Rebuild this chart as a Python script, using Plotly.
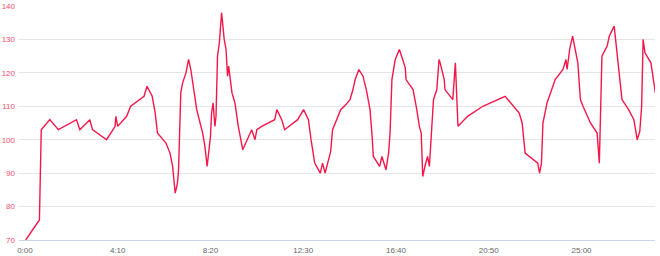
import plotly.graph_objects as go

# elapsed time (seconds) and heart-rate values
seconds = [2, 39, 44, 67, 90, 139, 148, 175, 182, 220, 243, 245, 250, 274, 285, 321, 329, 343, 351, 357,
           380, 391, 398, 405, 411, 414, 420, 425, 434, 441, 447, 454, 463, 472, 479, 485, 491, 496, 500, 503,
           507, 512, 515, 519, 524, 530, 537, 542, 546, 549, 553, 558, 566, 575, 587, 600, 611, 620, 625, 638,
           673, 679, 692, 700, 735, 751, 764, 771, 781, 796, 802, 809, 818, 824, 829, 837, 851, 865, 876, 884,
           890, 900, 911, 920, 925, 930, 935, 939, 956, 962, 973, 980, 984, 989, 998, 1009, 1018, 1025, 1027, 1046,
           1056, 1063, 1068, 1072, 1079, 1085, 1090, 1095, 1101, 1110, 1116, 1119, 1130, 1132, 1153, 1160, 1167, 1193, 1234, 1294,
           1332, 1340, 1348, 1382, 1387, 1392, 1396, 1407, 1429, 1450, 1458, 1461, 1468, 1476, 1483, 1490, 1497, 1504, 1524, 1542,
           1548, 1555, 1569, 1575, 1588, 1596, 1609, 1627, 1641, 1650, 1657, 1662, 1666, 1671, 1687, 1699]
heart_rate = [70, 76, 103, 106, 103, 106, 103, 106, 103, 100, 104, 107, 104, 107, 110, 113, 116, 113, 108, 102,
              99, 96, 92, 84, 87, 91, 114, 117, 120, 124, 121, 115, 109, 105, 102, 98, 92, 97, 101, 108,
              111, 104, 107, 125, 129, 138, 130, 127, 119, 122, 118, 114, 111, 104, 97, 100, 103, 100, 103, 104,
              106, 109, 106, 103, 106, 109, 106, 100, 93, 90, 93, 90, 94, 96.5, 103, 105, 109, 110.5, 112, 115,
              118, 121, 119, 115, 112, 109, 102, 95, 92, 95, 91, 96, 102, 118, 124, 127, 124, 121.5, 118, 115,
              109, 104, 102, 89, 92.5, 95, 92, 102, 112, 115, 124, 123, 118, 115, 112, 123, 104, 107, 110, 113,
              108, 105, 96, 93, 90, 93, 105, 111, 118, 121, 124, 121, 127, 131, 127, 123, 112, 110, 105, 102,
              93, 125, 128, 131, 134, 126, 112, 109, 106, 100, 102.5, 110, 130, 126, 123, 114]

x_tick_values = [0, 250, 500, 750, 1000, 1250, 1500]
x_tick_labels = ["0:00", "4:10", "8:20", "12:30", "16:40", "20:50", "25:00"]
y_tick_values = [70, 80, 90, 100, 110, 120, 130, 140]

fig = go.Figure()
fig.add_trace(go.Scatter(
    x=seconds, y=heart_rate, mode="lines",
    line=dict(color="#f5174a", width=1.4),
    hoverinfo="skip", showlegend=False,
))

fig.update_layout(
    width=660, height=256, autosize=False,
    margin=dict(l=19, r=5, t=6, b=16),
    paper_bgcolor="white", plot_bgcolor="white",
    font=dict(family="Liberation Sans, Arial, sans-serif", size=8),
    xaxis=dict(
        range=[-16, 1698], automargin=False,
        tickvals=x_tick_values, ticktext=x_tick_labels,
        showgrid=False, zeroline=False,
        showline=True, linecolor="#ccd6eb", linewidth=1,
        ticks="", tickfont=dict(color="#666666", size=8),
        ticklabelstandoff=2,
    ),
    yaxis=dict(
        range=[70, 140], automargin=False,
        tickvals=y_tick_values,
        showgrid=True, gridcolor="#e6e6e6", gridwidth=1,
        zeroline=False, showline=False, ticks="",
        tickfont=dict(color="#ff4d6d", size=8),
        ticklabelstandoff=3,
    ),
)

fig.write_html("out.html")
